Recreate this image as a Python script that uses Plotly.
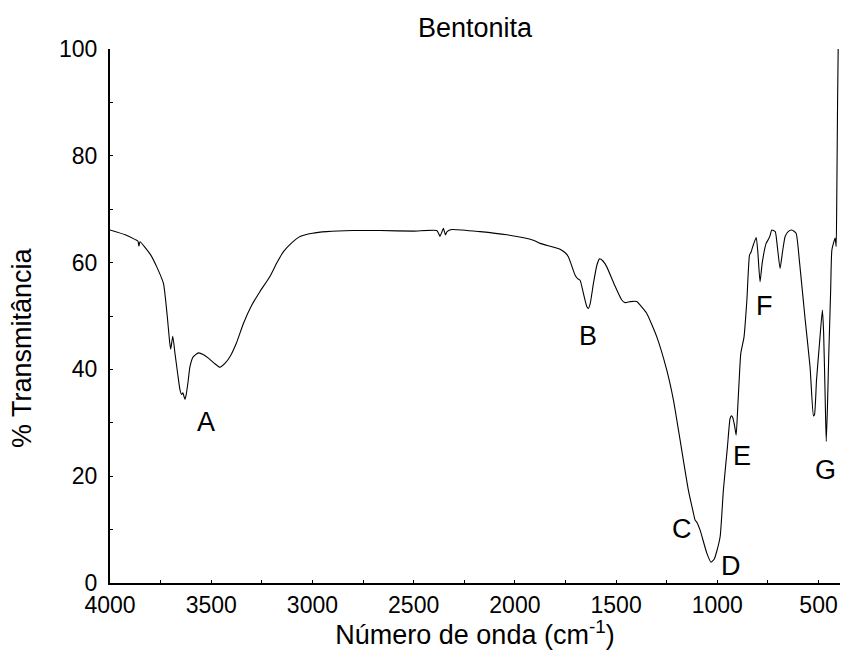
import plotly.graph_objects as go

# FTIR spectrum of bentonite: wavenumber (cm^-1) vs % transmittance
wavenumber = [
    4000, 3925, 3875, 3862, 3857, 3852, 3800, 3769, 3736, 3717, 3705, 3700,
    3690, 3679, 3665, 3654, 3646, 3640, 3630, 3624, 3615, 3605, 3590, 3563,
    3540, 3514, 3480, 3457, 3430, 3407, 3375, 3341, 3300, 3259, 3210, 3175,
    3144, 3100, 3061, 3000, 2930, 2800, 2666, 2500, 2386, 2375, 2370, 2362,
    2353, 2348, 2343, 2335, 2312, 2172, 2040, 1909, 1875, 1777, 1750, 1736,
    1720, 1703, 1690, 1678, 1660, 1645, 1637, 1628, 1612, 1595, 1582, 1565,
    1546, 1510, 1472, 1455, 1430, 1398, 1380, 1349, 1299, 1250, 1217, 1184,
    1143, 1118, 1110, 1100, 1085, 1052, 1031, 1015, 1003, 986, 970, 950,
    937, 930, 924, 915, 907, 899, 892, 884, 868, 854, 841, 833, 825, 808,
    800, 789, 778, 759, 747, 740, 731, 714, 705, 690, 678, 665, 650, 632,
    611, 595, 566, 542, 525, 520, 510, 495, 481, 475, 468, 462, 456, 450,
    440, 434, 418, 413, 410, 406, 403,
]
transmittance = [
    66.1, 65.2, 64.3, 64.0, 63.1, 63.9, 61.5, 59.2, 56.1, 49.9, 45.0, 43.8,
    46.2, 43.0, 39.0, 36.1, 35.3, 35.6, 34.4, 35.2, 37.5, 40.5, 42.3, 43.1,
    42.8, 42.1, 41.0, 40.4, 41.2, 42.4, 45.0, 48.6, 52.0, 54.6, 57.4, 60.0,
    62.0, 63.8, 64.9, 65.5, 65.8, 66.0, 66.0, 65.9, 66.0, 65.3, 64.9, 65.6,
    66.4, 65.8, 65.2, 65.8, 66.2, 65.8, 65.2, 64.2, 63.6, 62.5, 61.8, 61.1,
    59.5, 57.7, 57.0, 56.7, 54.0, 51.8, 51.4, 52.3, 56.1, 59.5, 60.7, 60.3,
    59.2, 56.0, 53.0, 52.5, 52.7, 52.7, 52.0, 50.5, 46.1, 39.9, 34.3, 26.8,
    17.4, 13.1, 11.8, 11.3, 9.9, 5.6, 3.9, 4.5, 5.9, 8.7, 17.4, 25.5,
    30.8, 31.3, 31.0, 29.5, 27.7, 33.0, 38.0, 43.0, 46.1, 53.0, 61.4, 62.0,
    63.0, 64.7, 62.0, 56.4, 60.0, 63.6, 64.4, 65.0, 66.1, 65.8, 63.5, 58.9,
    62.0, 64.9, 65.8, 66.1, 65.5, 60.5, 49.3, 40.5, 31.3, 31.5, 38.0, 45.0,
    51.1, 47.0, 36.0, 26.5, 33.0, 42.0, 55.0, 62.4, 64.6, 63.0, 71.7, 90.0,
    100.0,
]

# Band labels and their positions (wavenumber, % transmittance)
band_labels = ["A", "B", "C", "D", "E", "F", "G"]
band_x = [3527, 1640, 1175, 933, 876, 767, 464]
band_y = [30.2, 46.3, 10.1, 3.2, 23.8, 51.9, 21.2]

x_ticks = [4000, 3500, 3000, 2500, 2000, 1500, 1000, 500]
y_ticks = [0, 20, 40, 60, 80, 100]

FONT = "Arial, Liberation Sans, sans-serif"

fig = go.Figure()
fig.add_trace(go.Scatter(
    x=wavenumber, y=transmittance, mode="lines",
    line=dict(color="black", width=1.1, shape="spline", smoothing=0.5),
    hoverinfo="x+y", showlegend=False,
))

for lab, bx, by in zip(band_labels, band_x, band_y):
    fig.add_annotation(x=bx, y=by, text=lab, showarrow=False,
                       font=dict(family=FONT, size=27, color="black"),
                       xanchor="center", yanchor="middle")

# rotated y-axis title
fig.add_annotation(x=-0.1205, y=0.44, xref="paper", yref="paper",
                   text="% Transmitância", textangle=-90, showarrow=False,
                   font=dict(family=FONT, size=27, color="black"),
                   xanchor="center", yanchor="middle")

fig.update_layout(
    width=842, height=650,
    margin=dict(l=110, r=2, t=49, b=67),
    paper_bgcolor="white", plot_bgcolor="white",
    font=dict(family=FONT, color="black"),
    title=dict(text="Bentonita", x=0.5, xref="paper", xanchor="center",
               y=1 - 28 / 650, yref="container", yanchor="middle",
               font=dict(family=FONT, size=27, color="black")),
)

fig.update_xaxes(
    range=[4000, 394], tickvals=x_ticks, ticktext=[str(v) for v in x_ticks],
    showgrid=False, zeroline=False,
    showline=True, linecolor="black", linewidth=2,
    ticks="inside", ticklen=3, tickcolor="black", tickwidth=1,
    minor=dict(dtick=250, tick0=0, ticks="inside", ticklen=3, tickcolor="black", showgrid=False),
    tickfont=dict(family=FONT, size=23, color="black"),
    title=dict(text="Número de onda (cm<sup>-1</sup>)", standoff=3,
               font=dict(family=FONT, size=27, color="black")),
)
fig.update_yaxes(
    range=[0, 100], tickvals=y_ticks, ticktext=[str(v) for v in y_ticks],
    showgrid=False, zeroline=False,
    showline=True, linecolor="black", linewidth=2,
    ticks="inside", ticklen=3, tickcolor="black", tickwidth=1,
    minor=dict(dtick=10, tick0=0, ticks="inside", ticklen=3, tickcolor="black", showgrid=False),
    tickfont=dict(family=FONT, size=23, color="black"),
    ticklabelstandoff=6,
)

fig.write_html("out.html")
